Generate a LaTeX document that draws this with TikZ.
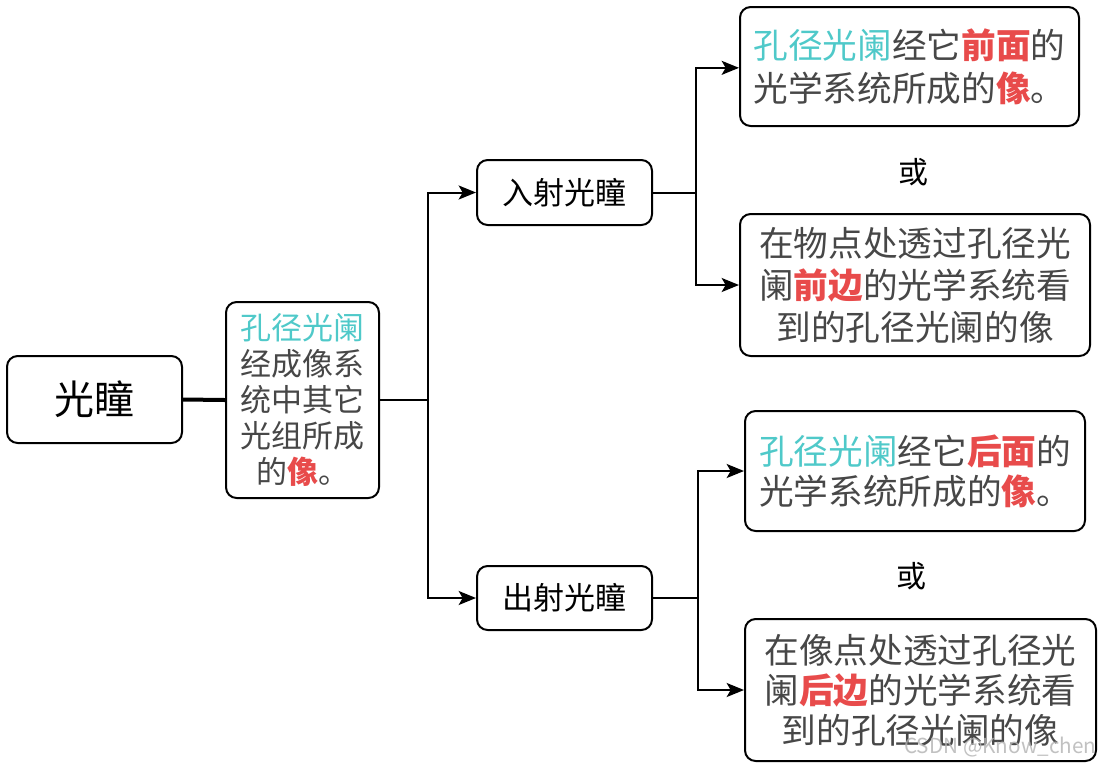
\documentclass[tikz,border=0pt]{standalone}
\usepackage{fontspec}
\setmainfont{Noto Sans CJK SC}
\usetikzlibrary{arrows.meta}
\definecolor{tealc}{HTML}{4FC9C9}
\definecolor{redc}{HTML}{E84B4B}
\definecolor{txtc}{HTML}{474747}
\newcommand{\tqx}[1]{\textcolor{tealc}{#1}}
\newcommand{\rqx}[1]{\textcolor{redc}{\bfseries #1}}
\begin{document}
\begin{tikzpicture}[x=0.75pt,y=-0.75pt,
  boxs/.style={draw=black,line width=1.5pt,rounded corners=8pt,inner sep=0pt,align=center},
  conn/.style={line width=1.5pt},
  arr/.style={line width=1.5pt,-{Stealth[length=13pt,width=10.5pt,inset=3pt]}}]
\useasboundingbox (0,0) rectangle (1104,769);
\fill[white] (0,0) rectangle (1104,769);
\node[boxs,minimum width=131.25pt,minimum height=65.25pt,font=\fontsize{30}{36}\selectfont] (root) at (94.5,399.5) {光瞳};
\node[boxs,minimum width=114.75pt,minimum height=147pt,text=txtc,font=\fontsize{23.25}{27}\selectfont] (mid) at (302.5,400) {\tqx{孔径光阑}\\经成像系\\统中其它\\光组所成\\的\rqx{像}。};
\node[boxs,minimum width=131.25pt,minimum height=48.75pt,font=\fontsize{23.25}{28}\selectfont] (ent) at (564.5,192.5) {入射光瞳};
\node[boxs,minimum width=131.25pt,minimum height=48pt,font=\fontsize{23.25}{28}\selectfont] (ext) at (564.5,598) {出射光瞳};
\node[boxs,minimum width=254.25pt,minimum height=89.25pt,text=txtc,font=\fontsize{26}{32.25}\selectfont] (b1) at (909.5,66.5) {\tqx{孔径光阑}经它\rqx{前面}的\\光学系统所成的\rqx{像}。};
\node[boxs,minimum width=262.5pt,minimum height=106.5pt,text=txtc,font=\fontsize{26}{31.5}\selectfont] (b2) at (915,285) {在物点处透过孔径光\\阑\rqx{前边}的光学系统看\\到的孔径光阑的像};
\node[boxs,minimum width=255pt,minimum height=90pt,text=txtc,font=\fontsize{26}{30}\selectfont] (b3) at (915,471) {\tqx{孔径光阑}经它\rqx{后面}的\\光学系统所成的\rqx{像}。};
\node[boxs,minimum width=263.25pt,minimum height=106.5pt,text=txtc,font=\fontsize{26}{30}\selectfont] (b4) at (920.5,690) {在像点处透过孔径光\\阑\rqx{后边}的光学系统看\\到的孔径光阑的像};
\node[font=\fontsize{22.5}{26}\selectfont] (or1) at (913,172) {或};
\node[font=\fontsize{22.5}{26}\selectfont] (or2) at (911,576) {或};
\coordinate (j1) at (428,400);
\coordinate (j2) at (696,192.5);
\coordinate (j3) at (698,598);
\draw[line width=3pt] (root.east) -- (mid.west);
\draw[conn] (mid.east) -- (j1);
\draw[arr] (j1) |- (ent.west);
\draw[arr] (j1) |- (ext.west);
\draw[conn] (ent.east) -- (j2);
\draw[arr] (j2) |- ([yshift=-1pt]b1.west);
\draw[arr] (j2) |- (b2.west);
\draw[conn] (ext.east) -- (j3);
\draw[arr] (j3) |- (b3.west);
\draw[arr] (j3) |- (b4.west);
\node[text=gray!60,opacity=0.8,font=\fontsize{15.5}{18}\selectfont,anchor=east] (wm) at (1101,747) {CSDN @Know\_chen};
\end{tikzpicture}
\end{document}
